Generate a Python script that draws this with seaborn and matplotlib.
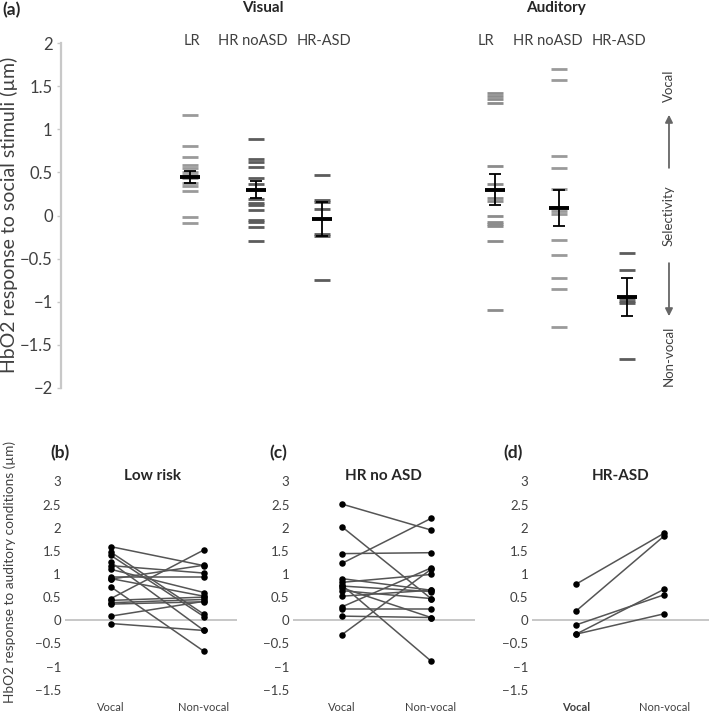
import numpy as np
import pandas as pd
import matplotlib
matplotlib.use("Agg")
import matplotlib.pyplot as plt
import seaborn as sns

sns.set_style("white")
plt.rcParams['font.family'] = ['Lato', 'DejaVu Sans']

# ---- panel (a): individual selectivity values (vocal - non-vocal) ----
groups = ["LR", "HR noASD", "HR-ASD"]
vis_lr = [1.16, 0.81, 0.68, 0.59, 0.55, 0.50, 0.47, 0.45, 0.43, 0.38, 0.34, 0.28, -0.02, -0.09]
vis_hr_noasd = [0.89, 0.65, 0.62, 0.56, 0.43, 0.36, 0.19, 0.15, 0.12, 0.06, -0.05, -0.08, -0.13, -0.30]
vis_hr_asd = [0.47, 0.18, 0.16, 0.07, -0.22, -0.24, -0.75]
aud_lr = [1.42, 1.38, 1.35, 1.31, 0.57, 0.36, 0.20, 0.17, -0.01, -0.07, -0.10, -0.12, -0.30, -1.09]
aud_hr_noasd = [1.70, 1.57, 0.69, 0.55, 0.31, 0.10, 0.05, 0.02, -0.28, -0.46, -0.72, -0.85, -1.29]
aud_hr_asd = [-0.44, -0.63, -0.96, -0.99, -1.02, -1.66]

# group means and standard errors
vis_means = [0.45, 0.30, -0.04]
vis_se = [0.07, 0.095, 0.195]
aud_means = [0.30, 0.085, -0.95]
aud_se = [0.18, 0.21, 0.22]

# ---- panels (b)-(d): vocal vs non-vocal per infant ----
cond_labels = ["Vocal", "Non-vocal"]
lr_vocal = [1.59, 1.47, 1.40, 1.25, 1.18, 1.10, 0.93, 0.90, 0.89, 0.72, 0.47, 0.43, 0.38, 0.35, 0.09, -0.07]
lr_nonvocal = [1.18, 0.13, 0.08, -0.22, 1.02, 0.60, 0.93, 0.52, 1.19, -0.67, 1.52, 0.50, 0.45, 0.40, 0.41, -0.22]
hrno_vocal = [2.51, 2.02, 1.44, 1.23, 0.90, 0.82, 0.76, 0.74, 0.70, 0.64, 0.52, 0.29, 0.25, 0.09, -0.31]
hrno_nonvocal = [1.95, 0.47, 1.46, 2.20, 0.65, 0.99, -0.88, 0.62, 0.06, 0.47, 0.65, 1.13, 0.25, 0.06, 1.10]
asd_vocal = [0.78, 0.20, -0.10, -0.30, -0.30]
asd_nonvocal = [1.88, 1.82, 0.55, 0.67, 0.14]

W, H = 709, 713
fig = plt.figure(figsize=(W / 100, H / 100), dpi=100)

def px_box(x0, y0, x1, y1):
    return [x0 / W, 1 - y1 / H, (x1 - x0) / W, (y1 - y0) / H]

TXT = "#404040"

# ================= panel (a) =================
ax = fig.add_axes(px_box(61, 43, 700, 388))
xpos = {("Visual", 0): 0.0, ("Visual", 1): 1.0, ("Visual", 2): 2.0,
        ("Auditory", 0): 4.62, ("Auditory", 1): 5.6, ("Auditory", 2): 6.62}
colors = {("Visual", 0): "#9a9a9a", ("Visual", 1): "#5c5c5c", ("Visual", 2): "#5c5c5c",
          ("Auditory", 0): "#8c8c8c", ("Auditory", 1): "#9a9a9a", ("Auditory", 2): "#5c5c5c"}
series = {("Visual", 0): vis_lr, ("Visual", 1): vis_hr_noasd, ("Visual", 2): vis_hr_asd,
          ("Auditory", 0): aud_lr, ("Auditory", 1): aud_hr_noasd, ("Auditory", 2): aud_hr_asd}

rows = []
for key, vals in series.items():
    for v in vals:
        rows.append({"mod": key[0], "grp": key[1], "x": xpos[key], "value": v})
df_a = pd.DataFrame(rows)

for key in series:
    sub = df_a[(df_a["mod"] == key[0]) & (df_a["grp"] == key[1])]
    sns.scatterplot(data=sub, x="x", y="value", marker="_", s=130,
                    linewidth=2.0, color=colors[key], ax=ax, legend=False)

mean_df = pd.DataFrame({
    "x": [xpos[("Visual", i)] for i in range(3)] + [xpos[("Auditory", i)] for i in range(3)],
    "mean": vis_means + aud_means,
    "se": vis_se + aud_se,
})
ax.errorbar(mean_df["x"], mean_df["mean"], yerr=mean_df["se"], fmt="none",
            ecolor="black", elinewidth=1.3, capsize=4.3, capthick=1.3, zorder=4)
sns.scatterplot(data=mean_df, x="x", y="mean", marker="_", s=200, linewidth=2.8,
                color="black", ax=ax, legend=False, zorder=5)

ax.set_xlim(-1.955, 7.73)
ax.set_ylim(-2, 2)
ax.set_yticks(np.arange(-2, 2.01, 0.5))
ax.set_yticklabels([f"{t:g}".replace("-", "\u2212") for t in np.arange(-2, 2.01, 0.5)])
ax.set_xticks([])
ax.set_xlabel("")
ax.set_ylabel("")
for s in ["top", "right", "bottom"]:
    ax.spines[s].set_visible(False)
ax.spines["left"].set_color("#c8c8c8")
ax.spines["left"].set_linewidth(1.6)
ax.tick_params(axis="y", left=True, length=3, width=1, color="#c8c8c8",
               labelsize=12, labelcolor=TXT, pad=3)

label_x = {("Visual", 0): 0.03, ("Visual", 1): 0.95, ("Visual", 2): 2.03,
           ("Auditory", 0): 4.48, ("Auditory", 1): 5.42, ("Auditory", 2): 6.5}
for key, lx in label_x.items():
    ax.text(lx, 2.02, groups[key[1]], ha="center", va="center", fontsize=10.5, color=TXT)

# selectivity arrows
ax_x = 7.26
ax.annotate("", xy=(ax_x, 1.2), xytext=(ax_x, 0.52),
            arrowprops=dict(arrowstyle="-|>", color="#666666", lw=1.3, mutation_scale=11))
ax.annotate("", xy=(ax_x, -1.2), xytext=(ax_x, -0.52),
            arrowprops=dict(arrowstyle="-|>", color="#666666", lw=1.3, mutation_scale=11))
ax.text(ax_x, 1.5, "Vocal", rotation=90, ha="center", va="center", fontsize=9.5, color=TXT)
ax.text(ax_x, 0.0, "Selectivity", rotation=90, ha="center", va="center", fontsize=9.5, color=TXT)
ax.text(ax_x, -1.63, "Non-vocal", rotation=90, ha="center", va="center", fontsize=9.5, color=TXT)

fig.text(12 / W, 1 - 10 / H, "(a)", fontsize=12.5, fontweight="bold", ha="center", va="center")
fig.text(263 / W, 1 - 8 / H, "Visual", fontsize=11, fontweight="bold", ha="center", va="center")
fig.text(556 / W, 1 - 8 / H, "Auditory", fontsize=11, fontweight="bold", ha="center", va="center")
fig.text(9 / W, 1 - 215 / H, "HbO2 response to social stimuli (\u00b5m)", rotation=90,
         fontsize=14, color=TXT, ha="center", va="center")

# ================= panels (b)-(d) =================
panels = [
    ("(b)", "Low risk", lr_vocal, lr_nonvocal, (64.5, 236.5), (-0.5, 1.35), 60, 153),
    ("(c)", "HR no ASD", hrno_vocal, hrno_nonvocal, (293, 475.5), (-0.55, 1.5), 278, 383),
    ("(d)", "HR-ASD", asd_vocal, asd_nonvocal, (532, 709), (-0.5, 1.51), 513, 621),
]
for i, (tag, title, voc, nonv, (x0, x1), xl, tag_x, title_x) in enumerate(panels):
    axb = fig.add_axes(px_box(x0, 467.5, x1, 699))
    n = len(voc)
    long_df = pd.DataFrame({
        "subject": list(range(n)) * 2,
        "cond": [0] * n + [1] * n,
        "value": voc + nonv,
    })
    sns.lineplot(data=long_df, x="cond", y="value", units="subject", estimator=None,
                 color="#555555", linewidth=1.1, ax=axb, legend=False)
    sns.scatterplot(data=long_df, x="cond", y="value", color="black", s=22,
                    edgecolor="black", linewidth=0, ax=axb, legend=False, zorder=5)
    axb.axhline(0, color="#bdbdbd", lw=1.2, zorder=0)
    axb.set_xlim(*xl)
    axb.set_ylim(-1.7, 3.3)
    axb.set_xticks([0, 1])
    axb.set_xticklabels(cond_labels)
    yt = np.arange(-1.5, 3.01, 0.5)
    axb.set_yticks(yt)
    axb.set_yticklabels([f"{t:g}".replace("-", "\u2212") for t in yt])
    axb.tick_params(axis="y", length=0, labelsize=9.5, labelcolor=TXT, pad=2.5)
    axb.tick_params(axis="x", length=0, labelsize=8, labelcolor=TXT, pad=2)
    axb.set_xlabel("")
    axb.set_ylabel("")
    for s in axb.spines.values():
        s.set_visible(False)
    if tag == "(d)":
        axb.get_xticklabels()[0].set_fontweight("bold")
    fig.text(tag_x / W, 1 - 453 / H, tag, fontsize=12.5, fontweight="bold", ha="center", va="center")
    fig.text(title_x / W, 1 - 476 / H, title, fontsize=11, fontweight="bold", ha="center", va="center")

fig.text(10 / W, 1 - 572 / H, "HbO2 response to auditory conditions (\u00b5m)", rotation=90,
         fontsize=9.8, color=TXT, ha="center", va="center")

fig.savefig("out.png", dpi=100)
